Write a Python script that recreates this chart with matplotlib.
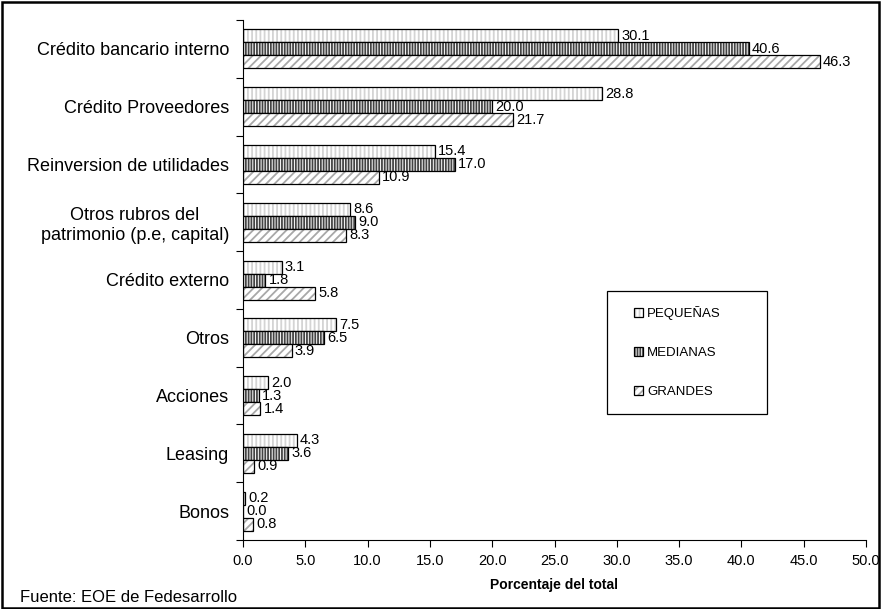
import matplotlib
matplotlib.use("Agg")
import matplotlib.pyplot as plt
from matplotlib.patches import Rectangle, Patch
import numpy as np

plt.rcParams['font.family'] = ['Liberation Sans', 'DejaVu Sans']

categories = ["Crédito bancario interno", "Crédito Proveedores",
              "Reinversion de utilidades",
              "Otros rubros del\npatrimonio (p.e, capital)",
              "Crédito externo", "Otros", "Acciones", "Leasing", "Bonos"]
pequenas = [30.1, 28.8, 15.4, 8.6, 3.1, 7.5, 2.0, 4.3, 0.2]
medianas = [40.6, 20.0, 17.0, 9.0, 1.8, 6.5, 1.3, 3.6, 0.0]
grandes = [46.3, 21.7, 10.9, 8.3, 5.8, 3.9, 1.4, 0.9, 0.8]
series_names = ["PEQUEÑAS", "MEDIANAS", "GRANDES"]
x_ticks = np.arange(0, 50.1, 5)

W, H = 882, 609
fig = plt.figure(figsize=(W / 100, H / 100), dpi=100)
ax = fig.add_axes([243 / W, 1 - 540 / H, 623 / W, 520 / H])

styles = [
    dict(hatch="||||", hcolor="#d4d4d4"),
    dict(hatch="||||||", hcolor="#444444"),
    dict(hatch="////", hcolor="#a8a8a8"),
]

n = len(categories)
h = 0.225
centers = np.arange(n)
series = [pequenas, medianas, grandes]
plt.rcParams['hatch.linewidth'] = 1.3
for i, (vals, st) in enumerate(zip(series, styles)):
    y = centers + (i - 1) * h
    # hatched fill
    ax.barh(y, vals, height=h, color="white", edgecolor=st["hcolor"],
            hatch=st["hatch"], linewidth=0)
    # black outline
    ax.barh(y, vals, height=h, color="none", edgecolor="black", linewidth=0.9)
    for yy, v in zip(y, vals):
        ax.text(v + 0.25, yy, f"{v:.1f}", va="center", ha="left", fontsize=10.5)

ax.set_xlim(0, 50)
ax.set_ylim(n - 0.5, -0.5)
ax.set_xticks(x_ticks)
ax.set_xticklabels([f"{t:.1f}" for t in x_ticks], fontsize=10.5)
ax.set_yticks(np.arange(n + 1) - 0.5)
ax.set_yticklabels([])
ax.set_yticks(centers, minor=True)
ax.set_yticklabels(categories, minor=True, fontsize=13, ha="right",
                   multialignment="center")
ax.tick_params(axis="y", which="minor", length=0, pad=10)
ax.tick_params(axis="y", which="major", length=5, direction="out")
ax.tick_params(axis="x", length=5, direction="out", pad=5)
for s in ["top", "right"]:
    ax.spines[s].set_visible(False)
ax.set_xlabel("Porcentaje del total", fontsize=10, fontweight="bold", labelpad=7)

# legend frame and entries (hatched swatch overlaid with a black outline)
fig.patches.append(Rectangle((607 / W, 1 - 414 / H), 160 / W, 123 / H,
                             transform=fig.transFigure, fill=False,
                             edgecolor="black", linewidth=0.9))
handles = [(Patch(facecolor="white", edgecolor=st["hcolor"], hatch=st["hatch"], linewidth=0),
            Patch(facecolor="none", edgecolor="black", linewidth=0.9))
           for st in styles]
leg = fig.legend(handles, series_names, loc="upper left",
                 bbox_to_anchor=(634 / W, 1 - 306 / H), frameon=False,
                 fontsize=9.5, labelspacing=2.05,
                 handlelength=0.7, handleheight=0.7, handletextpad=0.3,
                 borderpad=0, borderaxespad=0)

fig.text(20 / W, 1 - 597 / H, "Fuente: EOE de Fedesarrollo", fontsize=12,
         va="center", ha="left")
fig.patches.append(Rectangle((0.002, 0.002), 0.995, 0.995, transform=fig.transFigure,
                             fill=False, edgecolor="black", linewidth=1.8))

fig.savefig("out.png", dpi=100)
